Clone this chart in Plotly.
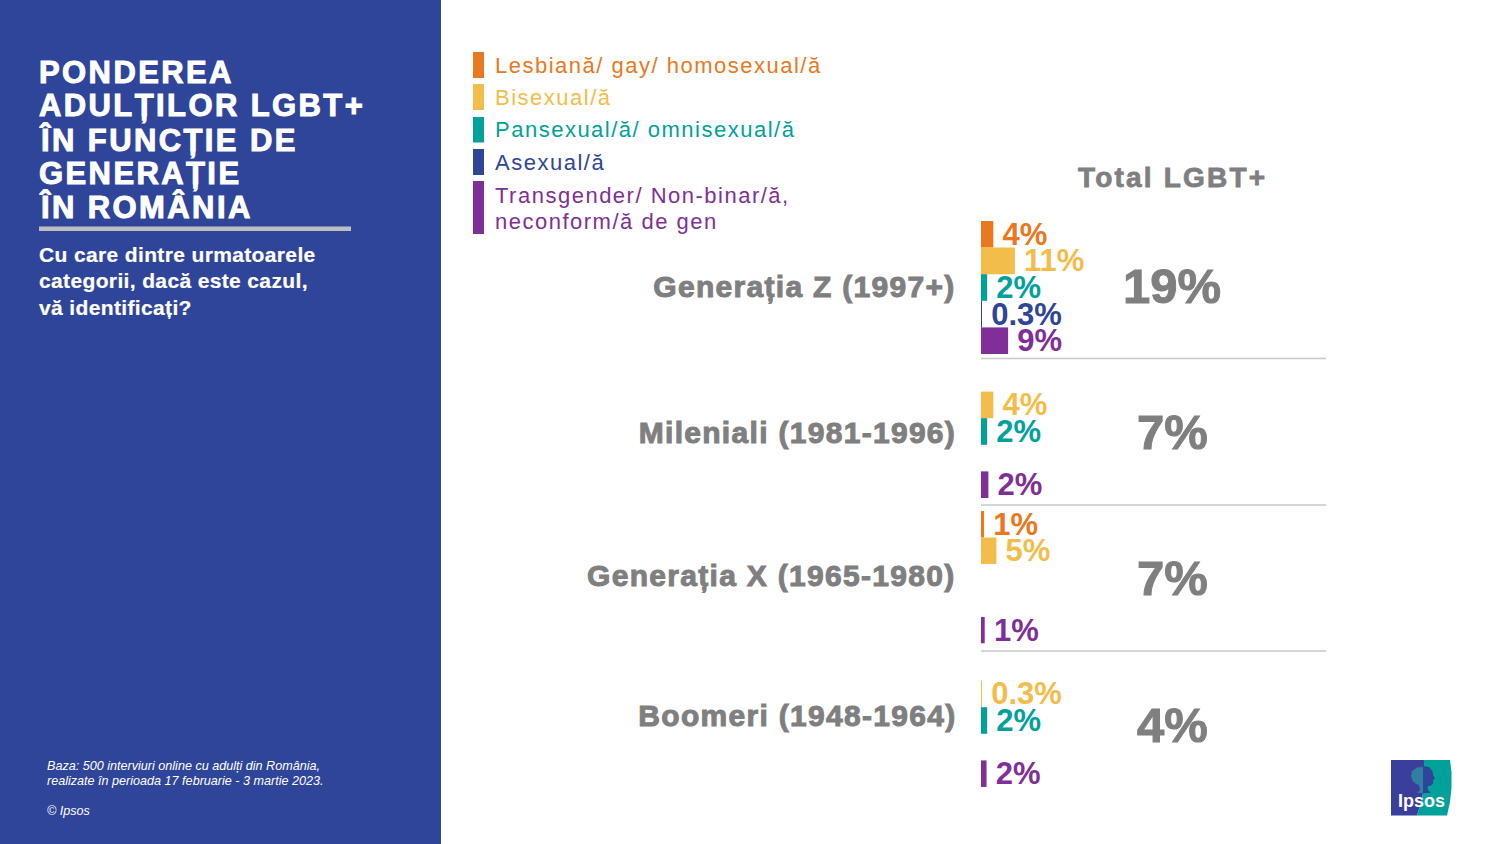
import json
import plotly.graph_objects as go

generations = ["Generația Z (1997+)", "Mileniali (1981-1996)", "Generația X (1965-1980)", "Boomeri (1948-1964)"]
totals = ["19%", "7%", "7%", "4%"]
series_names = ["Lesbiană/ gay/ homosexual/ă", "Bisexual/ă", "Pansexual/ă/ omnisexual/ă", "Asexual/ă",
                "Transgender/ Non-binar/ă,<br>neconform/ă de gen"]
series_keys = ["Lesbiana", "Bisexual", "Pansexual", "Asexual", "Transgender"]
colors = ["#E97820", "#F2BD4A", "#00A19A", "#2E4598", "#7F2F97"]

lesbiana = [4, None, 1, None]
bisexual = [11, 4, 5, 0.3]
pansexual = [2, 2, None, 2]
asexual = [0.3, None, None, None]
transgender = [8.8, 2.4, 1.2, 1.8]
lesbiana_labels = ["4%", None, "1%", None]
bisexual_labels = ["11%", "4%", "5%", "0.3%"]
pansexual_labels = ["2%", "2%", None, "2%"]
asexual_labels = ["0.3%", None, None, None]
transgender_labels = ["9%", "2%", "1%", "2%"]
series_values = [lesbiana, bisexual, pansexual, asexual, transgender]
series_labels = [lesbiana_labels, bisexual_labels, pansexual_labels, asexual_labels, transgender_labels]

title_lines = ["PONDEREA", "ADULȚILOR LGBT+", "ÎN FUNCȚIE DE", "GENERAȚIE", "ÎN ROMÂNIA"]
subtitle_lines = ["Cu care dintre urmatoarele", "categorii, dacă este cazul,", "vă identificați?"]
foot_lines = ["Baza: 500 interviuri online cu adulți din România,",
              "realizate în perioada 17 februarie - 3 martie 2023.", "© Ipsos"]

W, H = 1500, 844
GRAY = "#7F7F7F"
PANEL = "#2F4599"
FONT = "Liberation Sans"


def px(x):
    return x / W


def py(y):
    return 1 - y / H


group_tops = [221, 365, 511, 654]
group_bottoms = [354, 498, 643.5, 787]
spacing = {}
annotations = []


def label(x, y, text, size, color, anchor="left", bold=False, italic=False, ls=0, stroke=0):
    annotations.append(dict(
        x=px(x), y=py(y), xref="paper", yref="paper", text=text, showarrow=False,
        xanchor=anchor, yanchor="middle", borderpad=0, borderwidth=0, align=anchor,
        font=dict(family=FONT, size=size, color=color, weight="bold" if bold else "normal",
                  style="italic" if italic else "normal")))
    spacing[text] = [ls, stroke]


for line, y in zip(title_lines, [72, 105.5, 139.5, 173, 207]):
    label(39, y, line, 31, "white", bold=True, ls=2.4, stroke=1.0)
for line, y in zip(subtitle_lines, [254.5, 280.5, 307]):
    label(39, y, line, 21, "white", bold=True, ls=0.36, stroke=0.2)
for line, y in zip(foot_lines, [766, 781, 811]):
    label(47, y, line, 12.6, "white", italic=True)

for name, color, y in zip(series_names[:4], colors[:4], [65, 97, 129.5, 162]):
    label(495, y, name, 22, color, ls=1.5)
for line, y in zip(series_names[4].split("<br>"), [195, 221.5]):
    label(495, y, line, 22, colors[4], ls=1.5)

label(1172, 177.5, "Total LGBT+", 28, GRAY, anchor="center", bold=True, ls=2.2, stroke=0.8)
for gen, y in zip(generations, [287.5, 432.5, 575.5, 715.5]):
    label(956, y, gen, 30, GRAY, anchor="right", bold=True, ls=1.3, stroke=1.0)
for tot, y in zip(totals, [285.5, 431.5, 577.5, 724.5]):
    annotations.append(dict(x=px(1172), y=py(y), xref="paper", yref="paper", text=tot, showarrow=False,
                            xanchor="center", yanchor="middle", borderpad=0,
                            font=dict(family=FONT, size=49, color=GRAY, weight="bold")))
    spacing[tot] = [0, 1.0]
label(1421.5, 800.5, "Ipsos", 18, "white", anchor="center", bold=True)

shapes = [dict(type="rect", xref="paper", yref="paper", x0=0, x1=px(441), y0=0, y1=1,
               fillcolor=PANEL, line_width=0, layer="below")]


def rect(x0, y0, x1, y1, color):
    shapes.append(dict(type="rect", xref="paper", yref="paper", x0=px(x0), x1=px(x1), y0=py(y1), y1=py(y0),
                       fillcolor=color, line_width=0, layer="below"))


rect(39, 226.5, 351, 231, "#BDBEC2")
for y in [358.5, 505, 651]:
    rect(981, y - 0.75, 1326, y + 0.75, "#C8C8C8")
for (y0, y1), c in zip([(52, 78), (84, 110), (117, 142.5), (149, 175), (181, 234)], colors):
    rect(473, y0, 484, y1, c)


def path(points, color, close=True):
    d = "M" + " L".join(f"{px(x):.5f},{py(y):.5f}" for x, y in points) + (" Z" if close else "")
    shapes.append(dict(type="path", xref="paper", yref="paper", path=d, fillcolor=color, line_width=0, layer="above"))


path([(1391, 760), (1424, 760), (1424, 786), (1422, 800), (1417, 815.5), (1391, 815.5)], "#3B3F9C")
path([(1424, 760), (1450, 760), (1451.5, 772), (1451.5, 788), (1450, 802), (1447, 815.5), (1417, 815.5),
      (1422, 800), (1424, 786)], "#00A19A")
path([(1423, 767), (1417, 767.5), (1412, 771), (1411, 776), (1412.5, 781), (1416, 784), (1419, 785),
      (1420, 790), (1417, 793), (1424, 793), (1423, 787)], "#2E7FA3")
path([(1423, 766), (1429, 767), (1432.5, 771), (1433, 775), (1435, 778.5), (1433, 780), (1433, 784),
      (1430, 786), (1427.5, 786), (1428, 790), (1431, 793), (1423, 793)], "#2E4598")

fig = go.Figure()
layout_axes = {}
for g in range(4):
    name = "y" if g == 0 else f"y{g + 1}"
    axis = "yaxis" if g == 0 else f"yaxis{g + 1}"
    layout_axes[axis] = dict(domain=[py(group_bottoms[g]), py(group_tops[g])], type="category",
                             categoryorder="array", categoryarray=series_keys, range=[4.5, -0.5],
                             visible=False, anchor="x", fixedrange=True)
    for s in range(5):
        v = series_values[s][g]
        if v is None:
            continue
        fig.add_trace(go.Bar(
            x=[v], y=[series_keys[s]], orientation="h", xaxis="x", yaxis=name, width=1,
            marker=dict(color=colors[s], line_width=0), text=["\u2009" + series_labels[s][g]],
            textposition="outside", cliponaxis=False, constraintext="none",
            textfont=dict(family=FONT, size=31, color=colors[s], weight="bold"), showlegend=False,
            hoverinfo="skip"))

fig.update_layout(
    width=W, height=H, margin=dict(l=0, r=0, t=0, b=0), paper_bgcolor="white", plot_bgcolor="rgba(0,0,0,0)",
    xaxis=dict(domain=[px(981), px(1326)], range=[0, 112], visible=False, fixedrange=True),
    shapes=shapes, annotations=annotations, showlegend=False, barmode="overlay", **layout_axes)

post = """
document.documentElement.style.margin='0';document.body.style.margin='0';document.body.style.overflow='hidden';
var SP=%s;
document.querySelectorAll('.annotation-text').forEach(function(t){
  var c=SP[t.textContent];
  if(!c) return;
  if(c[0]) t.style.letterSpacing=c[0]+'px';
  if(c[1]){t.style.stroke=t.style.fill;t.style.strokeWidth=c[1]+'px';}
});
""" % json.dumps(spacing, ensure_ascii=False)

fig.write_html("out.html", post_script=post, config={"displayModeBar": False})
